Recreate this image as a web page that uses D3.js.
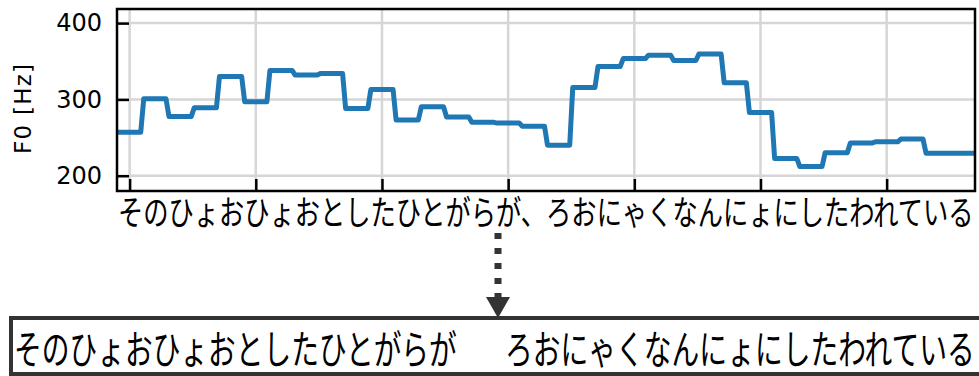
<!DOCTYPE html>
<html>
<head>
<meta charset="utf-8">
<script src="https://cdn.jsdelivr.net/npm/d3@7"></script>
<style>
  body { margin: 0; background: #fff; }
  svg { display: block; }
</style>
</head>
<body>
<svg id="chart" width="979" height="376"></svg>
<script>
// one mora (character) per step
var morae = ["そ","の","ひ","ょ","お","ひ","ょ","お","と","し","た","ひ","と","が","ら","が","、",
             "ろ","お","に","ゃ","く","な","ん","に","ょ","に","し","た","わ","れ","て","い","る"];
// F0 per mora [Hz]
var f0 = [257, 301, 277.5, 289, 330, 297, 338, 332, 334, 288, 313, 273, 290.5, 277, 270, 269, 265,
          240, 315.5, 343, 353.5, 358, 351, 359.5, 322, 283, 222.5, 212, 230, 243, 244.5, 248, 229.5, 229.5];
var xTicks = [0, 5, 10, 15, 20, 25, 30];
var yTicks = [200, 300, 400];
var boxLeft = "そのひょおひょおとしたひとがらが";
var boxRight = "ろおにゃくなんにょにしたわれている";

var svg = d3.select("#chart");
var pL = 117, pR = 975, pT = 9, pB = 191;

var x = d3.scaleLinear().domain([-0.5, morae.length - 0.5]).range([pL, pR]);
var y = d3.scaleLinear().domain([180, 418.5]).range([pB, pT]);

svg.append("clipPath").attr("id", "plotclip")
  .append("rect").attr("x", pL).attr("y", pT)
  .attr("width", pR - pL).attr("height", pB - pT);

// grid
var grid = svg.append("g").attr("stroke", "#d6d6d6").attr("stroke-width", 2.5);
grid.selectAll("line.gx").data(xTicks).enter().append("line")
  .attr("x1", function(d) { return x(d); }).attr("x2", function(d) { return x(d); })
  .attr("y1", pT).attr("y2", pB);
grid.selectAll("line.gy").data(yTicks).enter().append("line")
  .attr("y1", function(d) { return y(d); }).attr("y2", function(d) { return y(d); })
  .attr("x1", pL).attr("x2", pR);

// step line, short slanted transitions between morae
var d = 0.06;
var pts = [];
f0.forEach(function(v, i) {
  pts.push([i - 0.5 + (i === 0 ? 0 : d), v]);
  pts.push([i + 0.5 - (i === f0.length - 1 ? 0 : d), v]);
});
var line = d3.line().x(function(p) { return x(p[0]); }).y(function(p) { return y(p[1]); });
svg.append("path").datum(pts)
  .attr("clip-path", "url(#plotclip)")
  .attr("d", line)
  .attr("fill", "none")
  .attr("stroke", "#1f77b4")
  .attr("stroke-width", 5)
  .attr("stroke-linejoin", "round");

// axes (ticks pointing inward)
var yAxis = svg.append("g").attr("transform", "translate(" + pL + ",0)")
  .call(d3.axisLeft(y).tickValues(yTicks).tickSize(-12).tickPadding(15).tickFormat(d3.format("d")));
var xAxis = svg.append("g").attr("transform", "translate(0," + pB + ")")
  .call(d3.axisBottom(x).tickValues(xTicks).tickSize(-12).tickFormat(""));
[yAxis, xAxis].forEach(function(a) {
  a.select(".domain").remove();
  a.selectAll(".tick line").attr("stroke", "#000").attr("stroke-width", 2.5);
});
yAxis.selectAll(".tick text")
  .attr("font-family", "DejaVu Sans").attr("font-size", 24).attr("fill", "#000");

svg.append("rect").attr("x", pL).attr("y", pT)
  .attr("width", pR - pL).attr("height", pB - pT)
  .attr("fill", "none").attr("stroke", "#000").attr("stroke-width", 2.5);

// y label
svg.append("text")
  .attr("transform", "translate(31," + ((pT + pB) / 2 + 9) + ") rotate(-90)")
  .attr("text-anchor", "middle")
  .attr("font-family", "DejaVu Sans").attr("font-size", 23)
  .attr("textLength", 90).attr("lengthAdjust", "spacing")
  .text("F0 [Hz]");

// squeezed text: scale horizontally so it fills exactly `w` pixels
function fitText(str, x0, y0, size, w) {
  var g = svg.append("g");
  var t = g.append("text")
    .attr("font-family", "Noto Sans CJK JP").attr("font-size", size)
    .text(str);
  var nat = t.node().getComputedTextLength();
  g.attr("transform", "translate(" + x0 + "," + y0 + ") scale(" + (w / nat) + ",1)");
}

// transcription under the x axis
fitText(morae.join(""), pL + 1, 225, 34, pR - pL - 2);

// dotted arrow
svg.append("line")
  .attr("x1", 498).attr("x2", 498).attr("y1", 233).attr("y2", 297)
  .attr("stroke", "#333").attr("stroke-width", 7).attr("stroke-dasharray", "6,9");
svg.append("path")
  .attr("d", "M486,297 L510,297 L498,318 Z").attr("fill", "#333");

// box with the split sentence
svg.append("rect").attr("x", 11).attr("y", 318).attr("width", 990).attr("height", 56)
  .attr("fill", "none").attr("stroke", "#333").attr("stroke-width", 4);
fitText(boxLeft, 14, 364, 40, 443);
fitText(boxRight, 505, 364, 40, 470);
</script>
</body>
</html>
